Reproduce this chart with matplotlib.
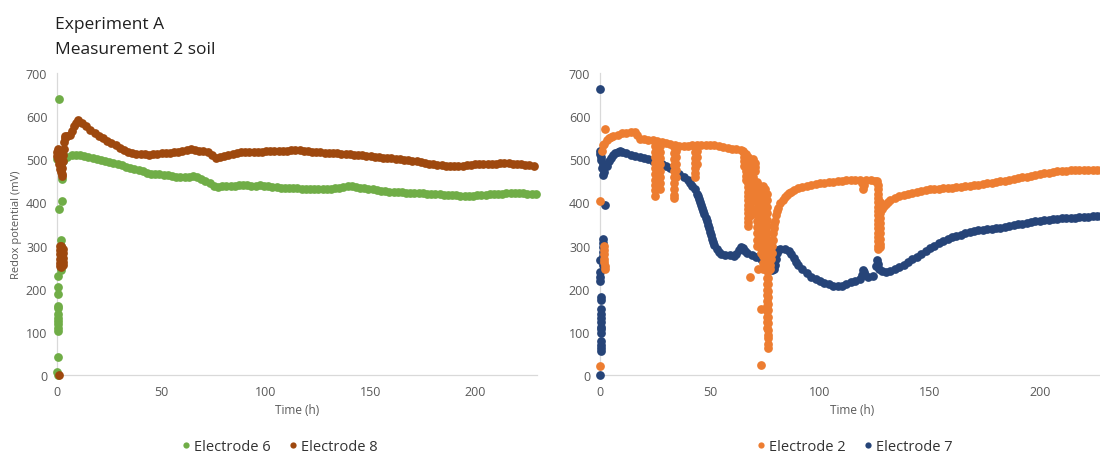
import matplotlib
matplotlib.use("Agg")
import matplotlib.pyplot as plt
from matplotlib.lines import Line2D

plt.rcParams['font.family'] = ['Open Sans', 'DejaVu Sans']

# ---------------- DATA ----------------
title_lines = ["Experiment A", "Measurement 2 soil"]
x_label = "Time (h)"
y_label = "Redox potential (mV)"
x_ticks = [0, 50, 100, 150, 200]
y_ticks = [0, 100, 200, 300, 400, 500, 600, 700]

# Electrode 6 (left, green)
e6_init_t = [0, 0, 0.3, 0.8, 0.8, 0.5, 0.5, 0.3, 0.5, 0.5, 0.5, 0.5, 0.5, 0.5, 0.5, 0.5, 0.5,
             1.7, 1.7, 1.7, 1.7, 1.9, 1.9, 1.9, 2.0, 2.5, 2.5, 2.0, 1.5]
e6_init_v = [501, 7, 0, 640, 384, 229, 203, 188, 161, 155, 141, 133, 125, 118, 110, 103, 41,
             312, 300, 290, 280, 270, 260, 250, 243, 455, 404, 480, 495]
e6_t = [3, 5, 7, 9, 11, 13, 15, 17, 19, 21, 23, 25, 27, 29, 31, 33, 35, 37, 39, 41,
        43, 45, 47, 49, 51, 53, 55, 57, 59, 61, 63, 65, 67, 69, 71, 73, 75, 77, 79, 81,
        83, 85, 87, 89, 91, 93, 95, 97, 99, 101, 103, 105, 107, 109, 111, 113, 115, 117, 119, 121,
        123, 125, 127, 129, 131, 133, 135, 137, 139, 141, 143, 145, 147, 149, 151, 153, 155, 157, 159, 161,
        163, 165, 167, 169, 171, 173, 175, 177, 179, 181, 183, 185, 187, 189, 191, 193, 195, 197, 199, 201,
        203, 205, 207, 209, 211, 213, 215, 217, 219, 221, 223, 225, 227, 229]
e6_v = [497, 505, 509, 511, 510, 508, 506, 504, 501, 499, 497, 494, 492, 489, 486, 483, 480, 477, 475, 472,
        469, 467, 466, 465, 463, 464, 461, 459, 459, 458, 459, 461, 458, 454, 449, 444, 439, 436, 437, 438,
        438, 439, 440, 441, 440, 439, 439, 440, 438, 437, 436, 435, 434, 434, 434, 433, 433, 432, 432, 431,
        431, 430, 430, 431, 432, 433, 434, 436, 438, 437, 435, 434, 433, 432, 430, 428, 427, 426, 425, 425,
        424, 424, 423, 422, 422, 421, 421, 420, 420, 420, 419, 418, 418, 417, 417, 416, 416, 416, 416, 417,
        417, 418, 419, 419, 420, 420, 421, 421, 421, 421, 421, 420, 420, 420]

# Electrode 8 (left, brown)
e8_init_t = [0, 0, 0.3, 0.5, 0.8, 1.0, 1.5, 1.8, 2.2, 2.0,
             1.2, 1.2, 1.2, 1.2, 1.2, 1.2, 2.0, 2.0, 2.0, 2.0, 2.0, 2.0, 2.8, 2.8, 2.8, 2.8, 2.8]
e8_init_v = [518, 508, 525, 500, 0, 490, 478, 470, 462, 485,
             300, 290, 280, 270, 260, 252, 298, 288, 278, 268, 258, 250, 292, 282, 272, 262, 256]
e8_t = [2.5, 2.6, 2.8, 3.0, 3.2, 3.4, 3.6, 4, 5, 6, 7, 8, 9, 10,
        12, 14, 16, 18, 20, 22, 24, 26, 28, 30, 32, 34, 36, 38, 40, 42, 44, 46, 48, 50,
        52, 54, 56, 58, 60, 62, 64, 66, 68, 70, 72, 74, 76, 78, 80, 82, 84, 86, 88, 90,
        92, 94, 96, 98, 100, 102, 104, 106, 108, 110, 112, 114, 116, 118, 120, 122, 124, 126, 128, 130,
        132, 134, 136, 138, 140, 142, 144, 146, 148, 150, 152, 154, 156, 158, 160, 162, 164, 166, 168, 170,
        172, 174, 176, 178, 180, 182, 184, 186, 188, 190, 192, 194, 196, 198, 200, 202, 204, 206, 208, 210,
        212, 214, 216, 218, 220, 222, 224, 226, 228]
e8_v = [465, 480, 495, 510, 525, 540, 550, 553, 555, 557, 566, 576, 585, 590,
        585, 577, 569, 562, 555, 549, 543, 537, 532, 527, 522, 518, 515, 513, 512, 512, 511, 512, 513, 514,
        515, 515, 517, 518, 520, 521, 523, 522, 520, 519, 516, 510, 504, 505, 508, 510, 513, 515, 516, 516,
        517, 517, 518, 518, 519, 519, 519, 519, 520, 520, 521, 521, 521, 520, 519, 518, 517, 516, 515, 515,
        514, 514, 513, 513, 512, 511, 510, 509, 508, 507, 506, 505, 504, 503, 502, 501, 500, 499, 498, 497,
        496, 494, 492, 490, 489, 487, 486, 485, 485, 484, 484, 485, 486, 487, 488, 488, 489, 489, 490, 490,
        491, 491, 491, 490, 489, 488, 487, 486, 485]

# Electrode 2 (right, orange) - main trace
e2_t = [2, 3, 4, 5, 6, 8, 10, 12, 14, 16, 17, 18, 20, 22, 24, 26, 28, 30, 32, 34,
        36, 38, 40, 42, 44, 46, 48, 50, 52, 54, 56, 58, 60, 62, 64, 65,
        77.3, 77.5, 77.75, 78, 78.25, 78.5, 78.75, 79, 79.25, 79.5, 80, 80.5, 81, 82, 83, 84, 85, 86, 87, 88,
        90, 92, 94, 96, 98, 100, 102, 104, 106, 108, 110, 112, 114, 116, 118, 119, 119.5, 120, 121, 123,
        125, 126, 128, 129, 130, 131, 132, 134, 136, 138,
        140, 142, 144, 146, 148, 150, 152, 154, 156, 158, 160, 162, 164, 166, 168, 170, 172, 174, 176, 178,
        180, 182, 184, 186, 188, 190, 192, 194, 196, 198, 200, 202, 204, 206, 208, 210, 212, 214, 216, 218,
        220, 222, 224, 226, 228]
e2_v = [535, 545, 549, 552, 554, 557, 560, 562, 563, 563, 556, 548, 546, 545, 544, 542, 540, 538, 535, 532,
        531, 531, 531, 532, 532, 532, 532, 533, 532, 531, 529, 527, 525, 524, 522, 520,
        246, 255, 268, 282, 298, 314, 328, 340, 349, 357, 370, 380, 388, 398, 405, 412, 417, 421, 425, 429,
        433, 436, 439, 441, 443, 445, 446, 447, 448, 449, 450, 451, 452, 453, 453, 445, 432, 440, 452, 451,
        450, 449, 385, 392, 397, 401, 405, 410, 414, 417,
        420, 422, 424, 426, 428, 430, 431, 432, 433, 434, 434, 435, 436, 437, 438, 440, 441, 442, 444, 446,
        447, 449, 450, 452, 454, 456, 458, 460, 462, 464, 466, 468, 469, 471, 472, 473, 474, 475, 475, 475,
        475, 475, 475, 475, 475]

# Electrode 2 - scattered readings (start, spikes, unstable period, drop)
e2_spike_t = [0, 0, 2.3, 1.8, 1.8, 1.9, 1.9, 2.0, 2.1, 2.2, 1.5, 1.0,
              25, 25, 25, 25, 25, 25, 25, 25, 25, 25,
              25.8, 25.8, 25.8, 25.8, 25.8, 25.8, 25.8,
              27.5, 27.5, 27.5, 27.5, 27.5, 27.5, 27.5, 27.5,
              33.8, 33.8, 33.8, 33.8, 33.8, 33.8, 33.8, 33.8, 33.8, 33.8,
              34.5, 34.5, 34.5, 34.5, 34.5,
              43.3, 43.3, 43.3, 43.3, 43.3, 43.3, 43.3,
              44, 44, 44,
              65.5, 65.5, 65.5, 65.5,
              66.5, 66.5, 66.5, 66.5, 66.5, 66.5, 66.5,
              67.3, 67.3, 67.3, 67.3, 67.3, 67.3, 67.3, 67.3, 67.3, 67.3, 67.3, 67.3, 67.3, 67.3, 67.3, 67.3, 67.3,
              68.2,
              68.5, 68.5, 68.5, 68.5, 68.5, 68.5, 68.5, 68.5, 68.5, 68.5, 68.5, 68.5,
              69.5, 69.5, 69.5, 69.5, 69.5,
              70.5, 70.5, 70.5,
              71.2, 71.2, 71.2, 71.2, 71.2, 71.2, 71.2, 71.2, 71.2, 71.2, 71.2,
              72, 72, 72, 72, 72, 72,
              73, 73, 73, 73, 73, 73, 73, 73, 73, 73, 73, 73, 73,
              74, 74, 74, 74, 74, 74, 74, 74, 74, 74, 74, 74, 74, 74,
              75, 75, 75, 75, 75, 75, 75, 75, 75, 75, 75, 75, 75, 75,
              75.8, 75.8, 75.8, 75.8, 75.8, 75.8, 75.8, 75.8, 75.8, 75.8, 75.8, 75.8, 75.8, 75.8, 75.8, 75.8,
              75.8, 75.8, 75.8, 75.8, 75.8, 75.8, 75.8,
              76.5, 76.5, 76.5, 76.5, 76.5, 76.5, 76.5, 76.5, 76.5, 76.5, 76.5, 76.5, 76.5, 76.5, 76.5, 76.5,
              76.5, 76.5,
              126.6, 126.6, 126.6, 126.6, 126.6, 126.6, 126.6, 126.6, 126.6, 126.6, 126.6, 126.6, 126.6, 126.6,
              126.6, 126.6,
              127.3, 127.3, 127.3, 127.3, 127.3, 127.3, 127.3, 127.3, 127.3, 127.3]
e2_spike_v = [404, 22, 571, 300, 290, 280, 270, 261, 253, 246, 532, 520,
              530, 518, 505, 492, 479, 466, 453, 440, 428, 416,
              525, 510, 495, 480, 465, 450, 437,
              530, 516, 502, 488, 474, 460, 446, 432,
              528, 514, 500, 486, 472, 458, 444, 430, 418, 410,
              520, 505, 490, 475, 460,
              528, 516, 504, 492, 480, 468, 460,
              520, 505, 490,
              515, 505, 495, 485,
              512, 502, 492, 482, 472, 462, 452,
              505, 495, 485, 475, 465, 455, 445, 435, 425, 415, 405, 395, 385, 375, 365, 355, 345,
              227,
              495, 485, 475, 465, 455, 445, 435, 425, 415, 400, 385, 370,
              500, 490, 480, 470, 460,
              492, 482, 472,
              448, 433, 418, 403, 388, 373, 358, 343, 328, 313, 300,
              440, 425, 410, 395, 380, 246,
              430, 415, 400, 385, 370, 355, 340, 325, 310, 295, 282, 153, 23,
              439, 425, 410, 395, 380, 365, 350, 335, 320, 305, 290, 275, 260, 245,
              432, 418, 404, 390, 376, 362, 348, 334, 320, 306, 292, 278, 264, 250,
              420, 405, 390, 375, 360, 345, 330, 315, 300, 285, 270, 255, 240, 225, 212, 198,
              185, 172, 160, 148, 135, 122, 110,
              300, 285, 270, 255, 240, 225, 210, 195, 180, 165, 150, 135, 120, 105, 92, 85,
              72, 63,
              440, 430, 420, 410, 400, 390, 380, 370, 360, 350, 340, 330, 320, 310,
              300, 292,
              400, 388, 376, 364, 352, 340, 328, 316, 304, 296]

# Electrode 7 (right, dark blue)
e7_init_t = [0, 0, 0, 0.3, 0.5, 2.3, 1.2, 1.2, 1.2, 1.2, 1.3, 1.3, 1.3, 0, 0, 0.2, 0.2,
             0.5, 0.5, 0.5, 0.5, 0.5, 0.5, 0.5, 0.5, 0.5, 0.5, 0.5, 0.5, 0.5, 0, 1.0, 1.5]
e7_init_v = [664, 520, 512, 505, 498, 394, 316, 306, 296, 286, 276, 266, 256, 266, 238, 228, 219,
             180, 175, 152, 142, 132, 122, 112, 106, 98, 79, 70, 62, 56, 0, 480, 490]
e7_t = [1.5, 2, 3, 4, 5, 6, 7, 8, 9, 10, 12, 14, 16, 18, 20, 22, 24, 26, 28, 30,
        32, 34, 36, 38, 40, 41, 42, 43, 44, 44.5, 45, 45.5, 46, 46.5, 47, 47.5, 48, 48.5, 49, 49.5,
        50, 50.5, 51, 51.5, 52, 53, 54, 55, 57, 59, 61, 62, 63, 64, 65, 66, 67, 69, 71, 73,
        75, 76, 77, 78, 79, 79.5, 80, 80.5, 81, 82, 84, 86, 87, 88, 89, 90, 92, 94, 96, 98,
        100, 102, 104, 106, 108, 110, 112, 114, 116, 118, 119, 119.5, 120, 120.5, 122, 124, 125.5, 126, 126.5, 127,
        128, 130, 132, 134, 136, 138, 140, 142, 144, 146, 148, 150, 152, 154, 156, 158, 160, 162, 164, 166,
        168, 170, 172, 174, 176, 178, 180, 182, 184, 186, 188, 190, 192, 194, 196, 198, 200, 202, 204, 206,
        208, 210, 212, 214, 216, 218, 220, 222, 224, 226, 228]
e7_v = [463, 470, 485, 495, 503, 509, 514, 517, 519, 518, 515, 511, 508, 505, 502, 500, 496, 493, 489, 485,
        480, 474, 467, 460, 452, 446, 438, 430, 420, 414, 408, 402, 395, 388, 380, 373, 365, 356, 348, 340,
        332, 324, 316, 309, 302, 292, 285, 281, 278, 277, 276, 280, 290, 296, 294, 287, 282, 279, 274, 268,
        262, 258, 250, 243, 245, 256, 270, 282, 289, 292, 291, 287, 280, 272, 263, 256, 246, 236, 228, 222,
        217, 213, 210, 207, 206, 207, 210, 215, 219, 222, 232, 243, 238, 232, 228, 230, 252, 266, 258, 246,
        240, 238, 242, 246, 250, 256, 262, 268, 274, 280, 287, 294, 300, 306, 311, 315, 319, 322, 325, 328,
        331, 333, 335, 337, 338, 339, 340, 341, 343, 345, 347, 349, 351, 353, 355, 356, 357, 359, 360, 361,
        362, 363, 364, 365, 365, 366, 367, 367, 368, 368, 369]

colors = {"Electrode 6": "#70AD47", "Electrode 8": "#9E480E",
          "Electrode 2": "#ED7D31", "Electrode 7": "#264478"}

# ---------------- FIGURE ----------------
W, H = 1100, 456
fig = plt.figure(figsize=(W / 100, H / 100), dpi=100)


def rect(x0, y_top, x1, y_bot):
    return [x0 / W, 1 - y_bot / H, (x1 - x0) / W, (y_bot - y_top) / H]


axL = fig.add_axes(rect(57, 74, 537, 376))
axR = fig.add_axes(rect(600, 74, 1105, 376))

tick_col = "#595959"
line_col = "#D9D9D9"
MS = 6.3

for ax in (axL, axR):
    ax.set_xlim(0, 229.6)
    ax.set_ylim(0, 700)
    ax.set_xticks(x_ticks)
    ax.set_yticks(y_ticks)
    for s in ("top", "right"):
        ax.spines[s].set_visible(False)
    for s in ("left", "bottom"):
        ax.spines[s].set_color(line_col)
        ax.spines[s].set_linewidth(0.9)
    ax.tick_params(axis="both", length=0, labelsize=9, labelcolor=tick_col)
    ax.tick_params(axis="x", pad=7)
    ax.tick_params(axis="y", pad=7)
    ax.set_xlabel(x_label, fontsize=8.5, color=tick_col, va="center")
    ax.xaxis.set_label_coords(0.5, -(411 - 376) / 302)
    ax.patch.set_alpha(0)

axL.set_ylabel(y_label, fontsize=8, color=tick_col, va="center", ha="center")
axL.yaxis.set_label_coords((17 - 57) / 480, 0.5)


def dots(ax, t, v, name, z):
    ax.plot(t, v, "o", color=colors[name], ms=MS, mec="none", clip_on=False, zorder=z)


dots(axL, e6_init_t + e6_t, e6_init_v + e6_v, "Electrode 6", 3)
dots(axL, e8_init_t + e8_t, e8_init_v + e8_v, "Electrode 8", 4)
dots(axR, e7_init_t + e7_t, e7_init_v + e7_v, "Electrode 7", 3)
dots(axR, e2_t + e2_spike_t, e2_v + e2_spike_v, "Electrode 2", 4)

# Title
fig.text(55 / W, 1 - 29 / H, title_lines[0], fontsize=12.5, color="#1F1F1F", va="baseline")
fig.text(55 / W, 1 - 54 / H, title_lines[1], fontsize=12.5, color="#1F1F1F", va="baseline")


def legend(pair, xc):
    handles = [Line2D([], [], ls="none", marker="o", ms=4.5, mec="none", color=colors[n]) for n in pair]
    fig.legend(handles, pair, loc="center", bbox_to_anchor=(xc / W, 1 - 448 / H), ncol=2,
               frameon=False, fontsize=10.5, handlelength=0.5, handletextpad=0.3,
               columnspacing=1.3, labelcolor="#333333", borderaxespad=0)


legend(["Electrode 6", "Electrode 8"], 280)
legend(["Electrode 2", "Electrode 7"], 855)

fig.savefig("out.png", dpi=100)
